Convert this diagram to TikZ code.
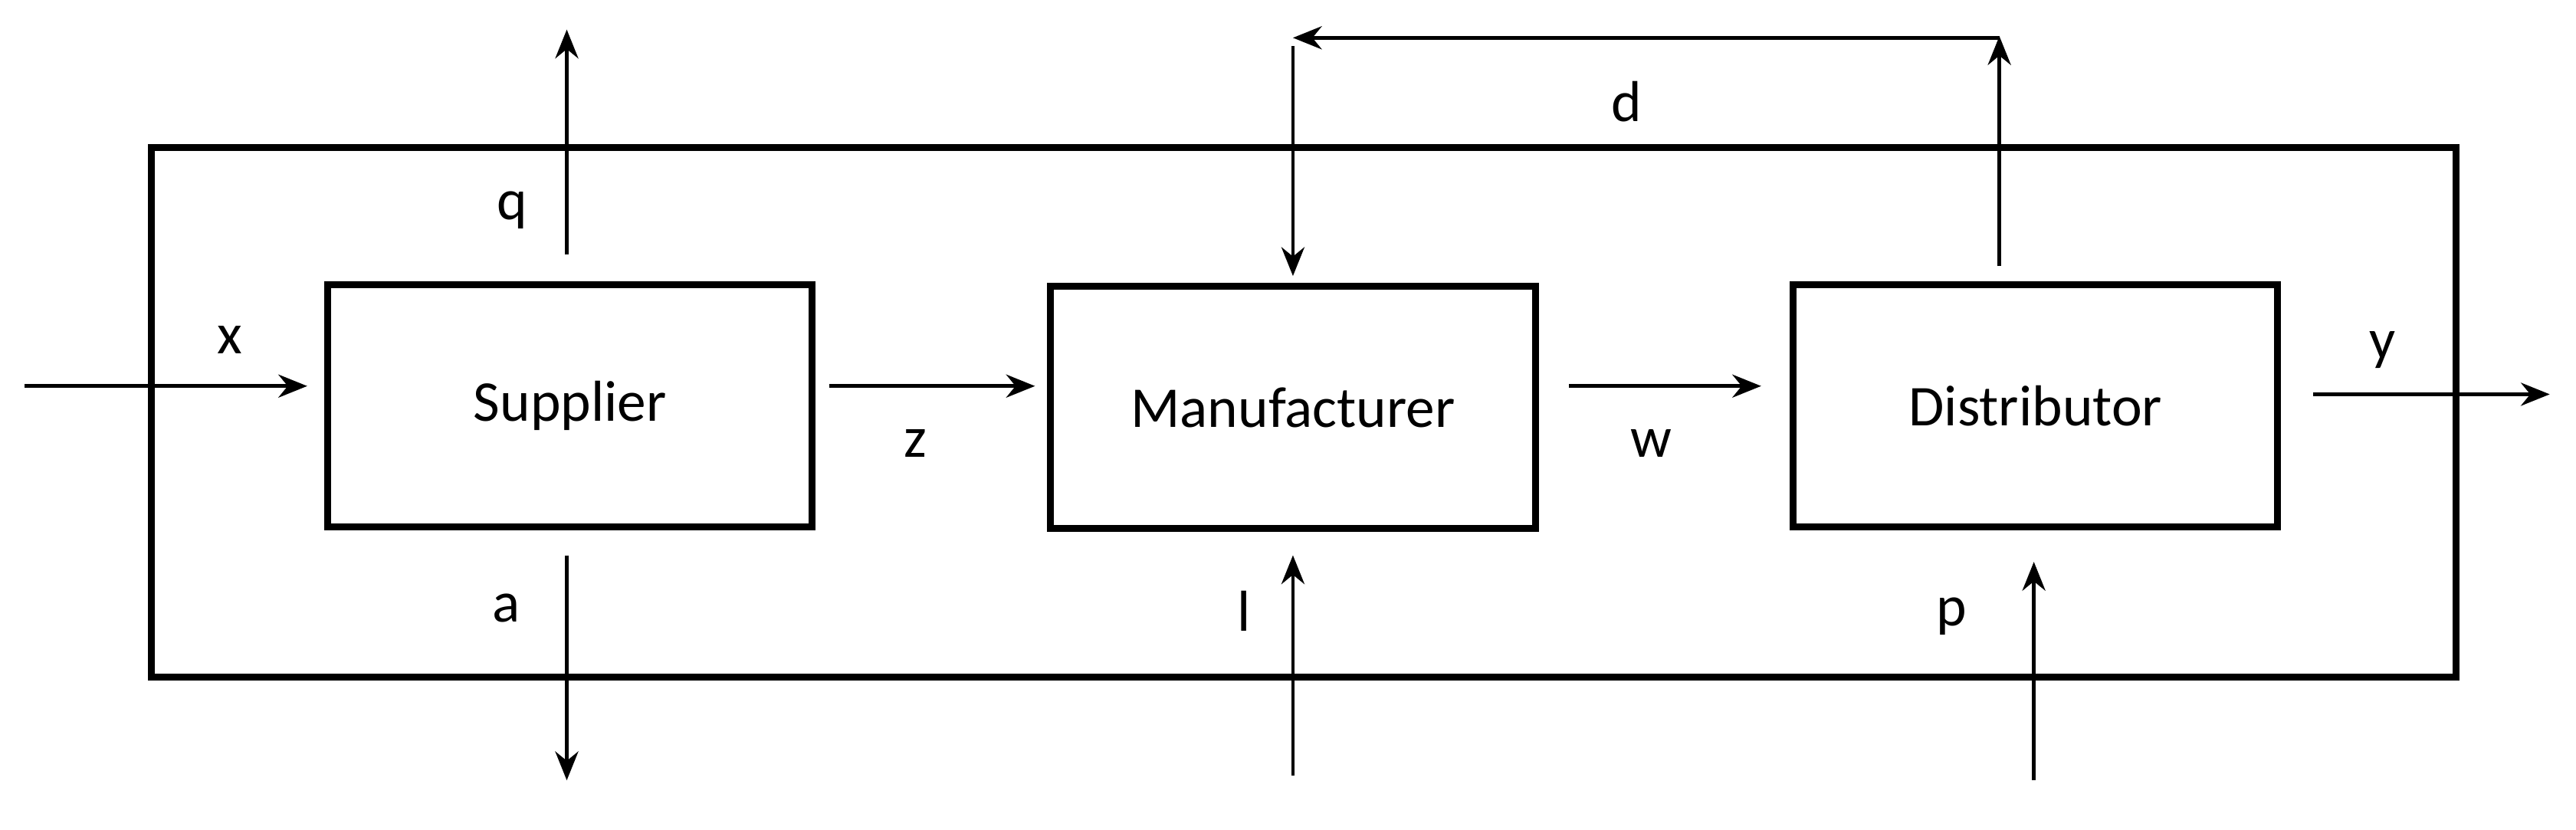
\documentclass[tikz,border=0pt]{standalone}
\usepackage{fontspec}
\setmainfont{Carlito}
\usetikzlibrary{arrows.meta}
\begin{document}
\begin{tikzpicture}[x=0.02cm,y=-0.02cm,
  blk/.style={draw,line width=2.4pt,minimum width=5.9cm,minimum height=2.95cm,font=\fontsize{20}{24}\selectfont},
  arr/.style={line width=1.2pt,-{Stealth[length=10pt,width=8pt]}},
  lab/.style={font=\fontsize{20}{24}\selectfont}]
\useasboundingbox (0,0) rectangle (1568,505);
\draw[line width=2.4pt] (92,90) rectangle (1495,412);
\node[blk] (s) at (347,247) {Supplier};
\node[blk] (m) at (787,248) {Manufacturer};
\node[blk] (dd) at (1239,247) {Distributor};
\coordinate (x0) at (15,235); \coordinate (x1) at (187,235);
\coordinate (z0) at (505,235); \coordinate (z1) at (630,235);
\coordinate (w0) at (955,235); \coordinate (w1) at (1072,235);
\coordinate (y0) at (1408,240); \coordinate (y1) at (1552,240);
\coordinate (q0) at (345,155); \coordinate (q1) at (345,18);
\coordinate (a0) at (345,338); \coordinate (a1) at (345,475);
\coordinate (l0) at (787,472); \coordinate (l1) at (787,338);
\coordinate (p0) at (1238,475); \coordinate (p1) at (1238,342);
\coordinate (d0) at (1217,162); \coordinate (d1) at (1217,22);
\coordinate (d2) at (1217,23); \coordinate (d3) at (787,23);
\coordinate (d4) at (787,28); \coordinate (d5) at (787,168);
\draw[arr] (x0) -- (x1);
\draw[arr] (z0) -- (z1);
\draw[arr] (w0) -- (w1);
\draw[arr] (y0) -- (y1);
\draw[arr] (q0) -- (q1);
\draw[arr] (a0) -- (a1);
\draw[arr] (l0) -- (l1);
\draw[arr] (p0) -- (p1);
\draw[arr] (d0) -- (d1);
\draw[arr] (d2) -- (d3);
\draw[arr] (d4) -- (d5);
\node[lab] (lx) at (140,207) {x};
\node[lab] (lz) at (557,270) {z};
\node[lab] (lw) at (1005,270) {w};
\node[lab] (ly) at (1450,213) {y};
\node[lab] (lq) at (312,128) {q};
\node[lab] (la) at (308,370) {a};
\node[lab] (ll) at (757,372) {l};
\node[lab] (lp) at (1188,375) {p};
\node[lab] (ld) at (990,62) {d};
\end{tikzpicture}
\end{document}
